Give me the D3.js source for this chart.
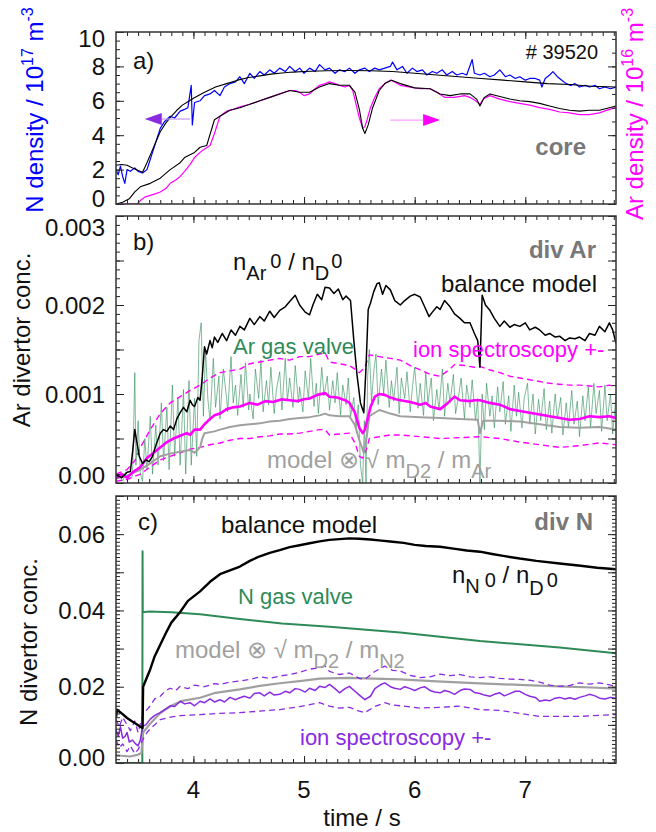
<!DOCTYPE html>
<html>
<head>
<meta charset="utf-8">
<script src="https://cdn.jsdelivr.net/npm/d3@7"></script>
<style>
body { margin: 0; background: #fff; }
text { font-family: "Liberation Sans", Arial, Helvetica, sans-serif; }
</style>
</head>
<body>
<div id="chart"></div>
<script>
// ---- data (time in s) ----

// panel a: core densities
let nDensity = [[3.30,2.0],[3.32,1.7],[3.34,2.2],[3.36,1.6],[3.38,1.2],[3.40,2.0],[3.43,1.9],[3.47,2.1],[3.50,1.9],[3.54,1.8],[3.58,2.0],[3.61,2.6],[3.65,3.4],[3.70,4.4],[3.74,4.8],[3.79,5.1],[3.83,5.0],[3.88,5.4],[3.92,5.5],[3.95,5.6],[3.98,6.9],[3.99,4.6],[4.01,5.9],[4.06,6.0],[4.10,6.3],[4.15,6.4],[4.19,6.6],[4.24,6.3],[4.28,6.8],[4.33,7.0],[4.38,7.1],[4.42,7.4],[4.46,7.0],[4.51,7.6],[4.55,7.3],[4.60,7.7],[4.64,7.5],[4.69,7.8],[4.73,7.6],[4.78,7.9],[4.83,7.7],[4.87,8.0],[4.92,7.7],[4.96,7.9],[5.00,7.6],[5.05,7.9],[5.10,7.7],[5.14,8.1],[5.19,7.8],[5.23,7.9],[5.28,7.6],[5.32,7.8],[5.37,7.7],[5.41,7.9],[5.46,7.6],[5.50,7.8],[5.55,7.9],[5.59,7.7],[5.64,7.9],[5.68,7.8],[5.73,7.9],[5.78,8.0],[5.80,8.25],[5.84,7.8],[5.89,8.0],[5.93,7.6],[5.98,7.9],[6.02,7.7],[6.07,7.8],[6.11,7.5],[6.16,7.7],[6.20,7.6],[6.25,7.8],[6.29,7.5],[6.34,7.7],[6.38,7.5],[6.43,7.6],[6.47,7.5],[6.52,8.4],[6.54,7.6],[6.59,7.5],[6.63,7.6],[6.68,7.4],[6.72,7.5],[6.77,7.8],[6.82,7.4],[6.86,7.5],[6.91,7.3],[6.95,7.4],[7.00,7.2],[7.04,7.3],[7.09,7.3],[7.13,7.2],[7.15,6.8],[7.18,7.3],[7.22,7.5],[7.25,7.7],[7.29,7.4],[7.33,7.2],[7.37,7.0],[7.41,6.9],[7.45,7.0],[7.49,6.8],[7.54,6.9],[7.58,6.8],[7.63,6.9],[7.67,6.7],[7.72,6.8],[7.77,6.7],[7.82,6.8]];
let nDensityFit = [[3.30,2.25],[3.35,2.3],[3.40,2.25],[3.45,2.1],[3.50,1.95],[3.54,1.85],[3.58,2.4],[3.62,3.0],[3.66,3.6],[3.70,4.2],[3.75,4.7],[3.80,5.1],[3.85,5.45],[3.90,5.75],[3.95,5.95],[4.00,6.15],[4.10,6.5],[4.20,6.8],[4.30,7.0],[4.40,7.2],[4.50,7.35],[4.60,7.45],[4.70,7.55],[4.80,7.62],[4.90,7.67],[5.00,7.7],[5.20,7.75],[5.40,7.76],[5.60,7.75],[5.80,7.7],[6.00,7.6],[6.20,7.5],[6.40,7.4],[6.60,7.3],[6.80,7.2],[7.00,7.1],[7.20,7.0],[7.40,6.95],[7.60,6.85],[7.82,6.8]];
let arDensity = [[3.30,0],[3.49,0],[3.52,0.2],[3.56,0.4],[3.61,0.5],[3.66,0.6],[3.70,0.7],[3.75,0.9],[3.79,1.2],[3.84,1.4],[3.88,1.6],[3.92,1.9],[3.97,2.3],[4.01,2.7],[4.06,3.0],[4.10,3.2],[4.15,3.4],[4.19,4.1],[4.22,4.7],[4.24,5.1],[4.30,5.4],[4.36,5.5],[4.42,5.65],[4.51,5.8],[4.60,6.0],[4.69,6.2],[4.78,6.4],[4.87,6.6],[4.92,6.6],[4.96,6.5],[5.00,6.3],[5.05,6.4],[5.10,6.7],[5.14,6.9],[5.19,7.0],[5.23,7.1],[5.28,7.0],[5.32,6.9],[5.37,6.8],[5.41,6.9],[5.44,6.6],[5.47,5.8],[5.50,5.0],[5.53,4.4],[5.55,4.5],[5.57,4.9],[5.60,5.6],[5.64,6.2],[5.68,6.7],[5.73,7.0],[5.78,7.2],[5.82,7.1],[5.87,6.9],[5.96,6.8],[6.05,6.7],[6.14,6.7],[6.20,6.5],[6.27,6.2],[6.36,6.2],[6.45,6.3],[6.50,6.2],[6.55,6.0],[6.59,5.8],[6.62,6.1],[6.68,6.3],[6.77,6.1],[6.86,5.95],[6.95,5.85],[7.04,5.75],[7.13,5.6],[7.22,5.5],[7.31,5.35],[7.40,5.3],[7.49,5.2],[7.58,5.2],[7.67,5.3],[7.76,5.5],[7.82,5.6]];
let arDensityFit = [[3.30,0],[3.36,0.1],[3.42,0.3],[3.47,0.7],[3.52,1.0],[3.61,1.2],[3.70,1.5],[3.79,2.0],[3.88,2.4],[3.92,2.7],[4.01,3.0],[4.06,3.3],[4.12,3.4],[4.19,4.9],[4.24,5.1],[4.33,5.45],[4.42,5.6],[4.51,5.8],[4.60,6.0],[4.69,6.2],[4.78,6.4],[4.87,6.6],[4.96,6.5],[5.05,6.5],[5.14,6.8],[5.23,7.0],[5.32,6.9],[5.41,6.9],[5.46,6.5],[5.50,5.5],[5.53,4.4],[5.55,4.1],[5.58,4.6],[5.62,5.6],[5.68,6.6],[5.73,7.0],[5.79,7.2],[5.87,7.0],[6.00,6.75],[6.14,6.7],[6.23,6.4],[6.32,6.3],[6.41,6.4],[6.50,6.4],[6.56,6.1],[6.59,5.7],[6.63,6.2],[6.68,6.4],[6.77,6.25],[6.86,6.1],[6.95,6.0],[7.04,5.95],[7.13,5.85],[7.22,5.7],[7.31,5.55],[7.40,5.45],[7.49,5.4],[7.58,5.45],[7.67,5.45],[7.76,5.6],[7.82,5.7]];

// panel b: Ar divertor concentration
let arBalance = [[3.30,0.00009],[3.35,0.00006],[3.40,0.00012],[3.43,0.00013],[3.45,0.00035],[3.47,0.0006],[3.49,0.00045],[3.51,0.0003],[3.54,0.00022],[3.57,0.00026],[3.60,0.00024],[3.63,0.0003],[3.66,0.00042],[3.70,0.00056],[3.73,0.0006],[3.76,0.00058],[3.79,0.00064],[3.82,0.0006],[3.85,0.00072],[3.88,0.00079],[3.91,0.00085],[3.94,0.0008],[3.97,0.00093],[3.99,0.00088],[4.01,0.00086],[4.04,0.00096],[4.06,0.00093],[4.08,0.0012],[4.10,0.00153],[4.12,0.00145],[4.15,0.0016],[4.17,0.00152],[4.19,0.00164],[4.22,0.00158],[4.26,0.00168],[4.30,0.0016],[4.34,0.00172],[4.38,0.00166],[4.42,0.00176],[4.46,0.00172],[4.51,0.00185],[4.55,0.00178],[4.60,0.00187],[4.64,0.00182],[4.69,0.00193],[4.73,0.00186],[4.78,0.00194],[4.83,0.00198],[4.87,0.00204],[4.92,0.00211],[4.96,0.002],[5.01,0.00192],[5.05,0.00189],[5.08,0.002],[5.12,0.00212],[5.16,0.00206],[5.19,0.0022],[5.23,0.00219],[5.27,0.00213],[5.31,0.00218],[5.35,0.00206],[5.38,0.0021],[5.42,0.00205],[5.45,0.0016],[5.48,0.0012],[5.51,0.0009],[5.54,0.00079],[5.56,0.0013],[5.58,0.00195],[5.60,0.00202],[5.63,0.00215],[5.66,0.00224],[5.68,0.00225],[5.71,0.00212],[5.74,0.00222],[5.78,0.00217],[5.82,0.00205],[5.87,0.002],[5.91,0.00205],[5.96,0.0021],[6.00,0.00212],[6.05,0.00209],[6.09,0.00198],[6.13,0.00187],[6.16,0.00192],[6.20,0.00198],[6.23,0.00195],[6.27,0.00205],[6.32,0.00198],[6.36,0.0019],[6.41,0.00185],[6.45,0.0018],[6.50,0.0018],[6.54,0.00168],[6.57,0.0016],[6.59,0.0013],[6.61,0.00211],[6.64,0.002],[6.68,0.00194],[6.72,0.00185],[6.77,0.00176],[6.81,0.00182],[6.86,0.00175],[6.90,0.00178],[6.95,0.00176],[7.00,0.0018],[7.04,0.00172],[7.09,0.00175],[7.13,0.00172],[7.18,0.00166],[7.22,0.00168],[7.27,0.00164],[7.31,0.00165],[7.36,0.0016],[7.40,0.00163],[7.45,0.00162],[7.49,0.00164],[7.54,0.0016],[7.58,0.00168],[7.63,0.00166],[7.67,0.00176],[7.72,0.0017],[7.76,0.0018],[7.79,0.00172],[7.82,0.00157]];
let arValve = [[3.30,0.00003],[3.33,0.00010],[3.36,0.00002],[3.39,0.00012],[3.42,0.00004],[3.45,0.00008],[3.47,0.00124],[3.48,0.00020],[3.50,0.00070],[3.52,0.00010],[3.54,0.00002],[3.56,0.00050],[3.58,0.00015],[3.61,0.00075],[3.63,0.00010],[3.66,0.00065],[3.68,0.00020],[3.71,0.00090],[3.73,0.00025],[3.76,0.00085],[3.78,0.00015],[3.81,0.00110],[3.83,0.00030],[3.86,0.00095],[3.88,0.00020],[3.91,0.00105],[3.93,0.00010],[3.96,0.00115],[3.98,0.00020],[4.01,0.00095],[4.03,0.00030],[4.05,0.00160],[4.07,0.00180],[4.09,0.00075],[4.11,0.00150],[4.13,0.00095],[4.15,0.00070],[4.18,0.00140],[4.20,0.00085],[4.23,0.00120],[4.24,0.00072],[4.27,0.00128],[4.30,0.00095],[4.31,0.00080],[4.34,0.00142],[4.36,0.00090],[4.38,0.00110],[4.40,0.00076],[4.43,0.00122],[4.45,0.00085],[4.47,0.00135],[4.50,0.00082],[4.51,0.00100],[4.54,0.00072],[4.56,0.00128],[4.59,0.00095],[4.61,0.00138],[4.63,0.00080],[4.66,0.00115],[4.68,0.00088],[4.70,0.00130],[4.73,0.00078],[4.75,0.00105],[4.78,0.00125],[4.80,0.00082],[4.83,0.00140],[4.85,0.00092],[4.87,0.00118],[4.90,0.00085],[4.92,0.00132],[4.95,0.00090],[4.96,0.00108],[4.99,0.00080],[5.01,0.00126],[5.04,0.00094],[5.06,0.00140],[5.09,0.00086],[5.11,0.00112],[5.13,0.00078],[5.16,0.00130],[5.18,0.00098],[5.21,0.00120],[5.23,0.00082],[5.26,0.00115],[5.28,0.00090],[5.30,0.00124],[5.33,0.00076],[5.35,0.00110],[5.38,0.00088],[5.40,0.00118],[5.42,0.00074],[5.45,0.00096],[5.47,0.00060],[5.49,0.00088],[5.51,0.00020],[5.53,0.00000],[5.545,0.00070],[5.56,0.00000],[5.575,0.00120],[5.59,0.00150],[5.61,0.00092],[5.63,0.00125],[5.65,0.00145],[5.67,0.00088],[5.70,0.00128],[5.72,0.00100],[5.74,0.00138],[5.77,0.00085],[5.79,0.00115],[5.81,0.00092],[5.84,0.00130],[5.86,0.00078],[5.88,0.00118],[5.91,0.00095],[5.93,0.00125],[5.96,0.00080],[5.98,0.00108],[6.00,0.00130],[6.03,0.00084],[6.05,0.00112],[6.08,0.00076],[6.10,0.00125],[6.12,0.00090],[6.15,0.00118],[6.17,0.00070],[6.20,0.00105],[6.22,0.00082],[6.25,0.00128],[6.27,0.00075],[6.30,0.00112],[6.32,0.00090],[6.35,0.00122],[6.37,0.00078],[6.40,0.00100],[6.42,0.00118],[6.45,0.00072],[6.47,0.00110],[6.50,0.00085],[6.52,0.00116],[6.55,0.00070],[6.57,0.00095],[6.59,0.00000],[6.61,0.00100],[6.63,0.00060],[6.65,0.00112],[6.68,0.00075],[6.70,0.00098],[6.72,0.00062],[6.75,0.00108],[6.77,0.00080],[6.80,0.00114],[6.82,0.00066],[6.85,0.00098],[6.87,0.00058],[6.90,0.00110],[6.92,0.00075],[6.94,0.00102],[6.97,0.00062],[6.99,0.00095],[7.02,0.00112],[7.04,0.00066],[7.07,0.00100],[7.09,0.00055],[7.12,0.00094],[7.14,0.00070],[7.17,0.00106],[7.19,0.00060],[7.22,0.00092],[7.24,0.00056],[7.27,0.00100],[7.29,0.00072],[7.32,0.00096],[7.34,0.00054],[7.37,0.00090],[7.39,0.00062],[7.42,0.00104],[7.44,0.00066],[7.47,0.00092],[7.49,0.00052],[7.52,0.00098],[7.54,0.00070],[7.57,0.00108],[7.59,0.00062],[7.62,0.00112],[7.64,0.00078],[7.67,0.00104],[7.69,0.00058],[7.72,0.00110],[7.74,0.00070],[7.77,0.00100],[7.79,0.00055],[7.82,0.00098]];
let arIon = [[3.30,0.00005],[3.35,0.00010],[3.40,0.00006],[3.45,0.00012],[3.52,0.00018],[3.58,0.00028],[3.64,0.00034],[3.70,0.00040],[3.76,0.00046],[3.82,0.00050],[3.88,0.00053],[3.94,0.00056],[3.97,0.00054],[4.01,0.00060],[4.06,0.00060],[4.10,0.00066],[4.15,0.00072],[4.19,0.00076],[4.24,0.00078],[4.30,0.00083],[4.36,0.00085],[4.42,0.00086],[4.51,0.00090],[4.58,0.00088],[4.65,0.00092],[4.72,0.00091],[4.80,0.00094],[4.87,0.00093],[4.94,0.00092],[5.00,0.00094],[5.05,0.00095],[5.12,0.00099],[5.19,0.00101],[5.23,0.00097],[5.30,0.00096],[5.37,0.00093],[5.41,0.00090],[5.46,0.00079],[5.50,0.00062],[5.53,0.00056],[5.55,0.00060],[5.60,0.00085],[5.64,0.00097],[5.68,0.00100],[5.73,0.00099],[5.78,0.00096],[5.83,0.00094],[5.87,0.00093],[5.96,0.00091],[6.05,0.00088],[6.10,0.00090],[6.14,0.00086],[6.23,0.00083],[6.30,0.00090],[6.36,0.00097],[6.41,0.00093],[6.50,0.00092],[6.54,0.00093],[6.59,0.00093],[6.68,0.00090],[6.77,0.00088],[6.86,0.00083],[6.95,0.00081],[7.04,0.00079],[7.13,0.00077],[7.22,0.00075],[7.31,0.00073],[7.40,0.00071],[7.49,0.00072],[7.58,0.00075],[7.67,0.00074],[7.76,0.00075],[7.82,0.00073]];
let arIonHi = [[3.30,0.00010],[3.40,0.00015],[3.47,0.00025],[3.52,0.00040],[3.61,0.00060],[3.70,0.00078],[3.79,0.00090],[3.88,0.00097],[3.97,0.00104],[4.06,0.00110],[4.15,0.00118],[4.24,0.00124],[4.33,0.00126],[4.42,0.00128],[4.51,0.00134],[4.60,0.00136],[4.69,0.00138],[4.78,0.00140],[4.87,0.00138],[4.96,0.00142],[5.05,0.00142],[5.14,0.00145],[5.19,0.00146],[5.23,0.00136],[5.32,0.00134],[5.41,0.00132],[5.46,0.00128],[5.50,0.00124],[5.55,0.00130],[5.59,0.00144],[5.68,0.00142],[5.78,0.00140],[5.87,0.00138],[5.96,0.00132],[6.05,0.00127],[6.14,0.00122],[6.23,0.00120],[6.32,0.00128],[6.36,0.00133],[6.45,0.00132],[6.54,0.00130],[6.59,0.00131],[6.68,0.00127],[6.77,0.00124],[6.86,0.00120],[6.95,0.00118],[7.04,0.00116],[7.13,0.00114],[7.22,0.00112],[7.31,0.00111],[7.40,0.00110],[7.49,0.00110],[7.58,0.00109],[7.67,0.00108],[7.76,0.00110],[7.82,0.00108]];
let arIonLo = [[3.30,0.00002],[3.40,0.00004],[3.52,0.00010],[3.61,0.00018],[3.70,0.00026],[3.79,0.00030],[3.88,0.00034],[3.97,0.00038],[4.06,0.00040],[4.15,0.00043],[4.24,0.00045],[4.33,0.00048],[4.42,0.00050],[4.51,0.00050],[4.60,0.00052],[4.69,0.00053],[4.78,0.00055],[4.87,0.00055],[4.96,0.00056],[5.05,0.00058],[5.14,0.00060],[5.19,0.00060],[5.23,0.00054],[5.32,0.00055],[5.41,0.00056],[5.46,0.00045],[5.50,0.00030],[5.53,0.00028],[5.57,0.00040],[5.59,0.00050],[5.68,0.00052],[5.78,0.00054],[5.87,0.00054],[6.05,0.00052],[6.23,0.00050],[6.41,0.00051],[6.59,0.00052],[6.77,0.00050],[6.95,0.00046],[7.13,0.00043],[7.31,0.00040],[7.49,0.00042],[7.67,0.00045],[7.82,0.00043]];
let arModel = [[3.30,0.00005],[3.40,0.00008],[3.52,0.00015],[3.61,0.00022],[3.70,0.00030],[3.79,0.00033],[3.88,0.00035],[3.97,0.00037],[4.01,0.00034],[4.06,0.00040],[4.08,0.00050],[4.10,0.00056],[4.19,0.00058],[4.24,0.00060],[4.33,0.00063],[4.42,0.00065],[4.51,0.00066],[4.60,0.00067],[4.69,0.00069],[4.78,0.00070],[4.87,0.00072],[4.96,0.00073],[5.05,0.00074],[5.14,0.00076],[5.19,0.00078],[5.23,0.00076],[5.32,0.00075],[5.41,0.00075],[5.46,0.00065],[5.50,0.00048],[5.54,0.00034],[5.57,0.00055],[5.59,0.00075],[5.68,0.00082],[5.78,0.00078],[5.87,0.00075],[6.05,0.00074],[6.23,0.00073],[6.41,0.00072],[6.57,0.00071],[6.59,0.00056],[6.62,0.00070],[6.77,0.00070],[6.95,0.00069],[7.13,0.00066],[7.31,0.00063],[7.49,0.00062],[7.67,0.00063],[7.82,0.00060]];

// panel c: N divertor concentration
let nBalance = [[3.30,0.0120],[3.31,0.0140],[3.33,0.0135],[3.36,0.0128],[3.40,0.0118],[3.44,0.0110],[3.48,0.0103],[3.52,0.0095],[3.54,0.0092],[3.545,0.0200],[3.58,0.0225],[3.61,0.0246],[3.65,0.0280],[3.70,0.0310],[3.75,0.0340],[3.80,0.0368],[3.88,0.0396],[3.95,0.0425],[4.06,0.0450],[4.15,0.0475],[4.24,0.0495],[4.33,0.0505],[4.42,0.0515],[4.51,0.0530],[4.60,0.0542],[4.69,0.0551],[4.78,0.0558],[4.87,0.0566],[4.96,0.0571],[5.05,0.0576],[5.14,0.0581],[5.23,0.0585],[5.32,0.0587],[5.41,0.0589],[5.50,0.0588],[5.60,0.0586],[5.70,0.0583],[5.80,0.0580],[5.90,0.0577],[6.00,0.0572],[6.10,0.0569],[6.23,0.0567],[6.35,0.0562],[6.47,0.0557],[6.59,0.0554],[6.70,0.0548],[6.80,0.0543],[6.95,0.0536],[7.10,0.0530],[7.31,0.0523],[7.50,0.0517],[7.65,0.0512],[7.82,0.0508]];
let nValve = [[3.30,0],[3.538,0],[3.540,0.0555],[3.542,0.0395],[3.60,0.0397],[3.80,0.0395],[4.06,0.0390],[4.40,0.0378],[4.80,0.0366],[5.23,0.0357],[5.87,0.0342],[6.59,0.0320],[7.31,0.0303],[7.82,0.0288]];
let nModel = [[3.30,0.0021],[3.35,0.0019],[3.43,0.0017],[3.50,0.0022],[3.53,0.0026],[3.545,0.0080],[3.60,0.0100],[3.70,0.0131],[3.80,0.0150],[3.90,0.0163],[4.06,0.0171],[4.20,0.0184],[4.42,0.0193],[4.60,0.0202],[4.78,0.0209],[5.00,0.0216],[5.14,0.0221],[5.40,0.0223],[5.87,0.0219],[6.20,0.0214],[6.59,0.0209],[7.00,0.0204],[7.31,0.0201],[7.60,0.0198],[7.82,0.0195]];
let nIon = [[3.30,0.0087],[3.32,0.0070],[3.34,0.0095],[3.36,0.0065],[3.38,0.0069],[3.40,0.0080],[3.42,0.0055],[3.45,0.0060],[3.47,0.0052],[3.50,0.0045],[3.52,0.0060],[3.54,0.0096],[3.57,0.0100],[3.61,0.0115],[3.65,0.0125],[3.70,0.0132],[3.74,0.0140],[3.79,0.0150],[3.83,0.0148],[3.88,0.0162],[3.92,0.0155],[3.97,0.0158],[4.01,0.0150],[4.06,0.0162],[4.10,0.0158],[4.15,0.0168],[4.19,0.0160],[4.24,0.0166],[4.28,0.0160],[4.33,0.0172],[4.38,0.0166],[4.42,0.0171],[4.46,0.0175],[4.51,0.0170],[4.55,0.0182],[4.60,0.0184],[4.64,0.0176],[4.69,0.0186],[4.73,0.0178],[4.78,0.0180],[4.83,0.0188],[4.87,0.0184],[4.92,0.0195],[4.96,0.0193],[5.01,0.0186],[5.05,0.0196],[5.10,0.0190],[5.14,0.0201],[5.19,0.0198],[5.23,0.0206],[5.28,0.0195],[5.32,0.0184],[5.37,0.0195],[5.41,0.0201],[5.46,0.0188],[5.50,0.0178],[5.55,0.0166],[5.60,0.0175],[5.64,0.0195],[5.69,0.0205],[5.73,0.0210],[5.78,0.0200],[5.82,0.0196],[5.87,0.0193],[5.91,0.0200],[5.96,0.0195],[6.00,0.0190],[6.05,0.0197],[6.09,0.0200],[6.14,0.0190],[6.18,0.0186],[6.23,0.0184],[6.27,0.0190],[6.32,0.0186],[6.36,0.0180],[6.41,0.0190],[6.45,0.0194],[6.50,0.0193],[6.54,0.0185],[6.59,0.0182],[6.63,0.0178],[6.68,0.0175],[6.72,0.0180],[6.77,0.0184],[6.81,0.0176],[6.86,0.0182],[6.91,0.0188],[6.95,0.0188],[7.00,0.0180],[7.04,0.0175],[7.09,0.0172],[7.13,0.0162],[7.18,0.0165],[7.22,0.0163],[7.27,0.0170],[7.31,0.0172],[7.36,0.0168],[7.40,0.0171],[7.45,0.0167],[7.49,0.0172],[7.54,0.0176],[7.58,0.0180],[7.63,0.0176],[7.67,0.0170],[7.72,0.0168],[7.77,0.0172],[7.82,0.0170]];
let nIonHi = [[3.30,0.0115],[3.33,0.0095],[3.36,0.0120],[3.40,0.0100],[3.43,0.0085],[3.47,0.0110],[3.50,0.0080],[3.54,0.0125],[3.58,0.0140],[3.61,0.0150],[3.65,0.0168],[3.70,0.0175],[3.75,0.0190],[3.79,0.0196],[3.84,0.0190],[3.88,0.0201],[3.95,0.0195],[4.01,0.0204],[4.10,0.0200],[4.19,0.0208],[4.24,0.0206],[4.33,0.0212],[4.42,0.0215],[4.51,0.0219],[4.60,0.0226],[4.69,0.0222],[4.78,0.0228],[4.87,0.0232],[4.96,0.0238],[5.05,0.0246],[5.14,0.0250],[5.19,0.0254],[5.23,0.0240],[5.32,0.0232],[5.41,0.0236],[5.50,0.0222],[5.55,0.0219],[5.64,0.0240],[5.73,0.0254],[5.80,0.0243],[5.87,0.0241],[5.96,0.0230],[6.05,0.0224],[6.14,0.0226],[6.23,0.0233],[6.32,0.0229],[6.41,0.0232],[6.50,0.0226],[6.59,0.0224],[6.68,0.0226],[6.77,0.0222],[6.86,0.0220],[6.95,0.0219],[7.04,0.0217],[7.13,0.0212],[7.22,0.0204],[7.31,0.0201],[7.40,0.0203],[7.49,0.0210],[7.58,0.0207],[7.67,0.0210],[7.76,0.0205],[7.82,0.0201]];
let nIonLo = [[3.30,0.0060],[3.33,0.0040],[3.36,0.0050],[3.40,0.0030],[3.43,0.0045],[3.47,0.0025],[3.50,0.0035],[3.54,0.0060],[3.58,0.0080],[3.61,0.0090],[3.65,0.0100],[3.70,0.0114],[3.79,0.0120],[3.88,0.0124],[4.06,0.0127],[4.24,0.0130],[4.42,0.0132],[4.60,0.0136],[4.78,0.0140],[4.96,0.0148],[5.14,0.0158],[5.23,0.0149],[5.32,0.0144],[5.41,0.0146],[5.50,0.0136],[5.55,0.0132],[5.64,0.0148],[5.73,0.0158],[5.80,0.0152],[5.87,0.0150],[6.05,0.0144],[6.23,0.0146],[6.41,0.0149],[6.59,0.0140],[6.77,0.0138],[6.95,0.0130],[7.13,0.0122],[7.31,0.0122],[7.49,0.0122],[7.67,0.0125],[7.82,0.0127]];

// ticks
let timeTicks = [4, 5, 6, 7];
let aTicks = [0, 2, 4, 6, 8, 10];
let bTicks = [0, 0.001, 0.002, 0.003];
let bLabels = ["0.00", "0.001", "0.002", "0.003"];
let cTicks = [0, 0.02, 0.04, 0.06];
let cLabels = ["0.00", "0.02", "0.04", "0.06"];

// ---- layout ----
let width = 656, height = 832;
let x0 = 116, x1 = 616;
let svg = d3.select("#chart").append("svg")
            .attr("width", width).attr("height", height);

let x = d3.scaleLinear().domain([3.3, 7.82]).range([x0, x1]);
let ya = d3.scaleLinear().domain([0, 10]).range([204, 32]);
let ya2 = d3.scaleLinear().domain([0, 10]).range([204, 32]);
let yb = d3.scaleLinear().domain([0, 0.003]).range([483, 216]);
let yc = d3.scaleLinear().domain([0, 0.07]).range([763, 496]);

let green = "#2e8b57", purple = "#8a2be2", grey = "#a0a0a0", darkGrey = "#787878";

function clip(id, y) {
    svg.append("clipPath").attr("id", id).append("rect")
       .attr("x", x0).attr("y", y.range()[1]).attr("width", x1 - x0)
       .attr("height", y.range()[0] - y.range()[1]);
    return svg.append("g").attr("clip-path", `url(#${id})`);
}

function drawLine(g, data, y, color, w, dash, opacity) {
    let line = d3.line().x(d => x(d[0])).y(d => y(d[1]));
    g.append("path").datum(data).attr("d", line)
     .attr("fill", "none").attr("stroke", color).attr("stroke-width", w)
     .attr("stroke-dasharray", dash || null).attr("stroke-opacity", opacity || 1)
     .attr("stroke-linejoin", "round");
}

function frame(y, yRight, leftMinor, leftMajor, rightMinor, rightMajor) {
    let top = y.range()[1], bot = y.range()[0];
    let xMinor = d3.range(3.4, 7.82, 0.1);
    let tick = (axis, tr) => svg.append("g").attr("transform", tr).call(axis)
                               .call(s => s.select(".domain").remove())
                               .call(s => s.selectAll("line").attr("stroke", "#222"));
    tick(d3.axisBottom(x).tickValues(xMinor).tickSize(-4).tickFormat(""), `translate(0,${bot})`);
    tick(d3.axisBottom(x).tickValues(timeTicks).tickSize(-7).tickFormat(""), `translate(0,${bot})`);
    tick(d3.axisTop(x).tickValues(xMinor).tickSize(-4).tickFormat(""), `translate(0,${top})`);
    tick(d3.axisTop(x).tickValues(timeTicks).tickSize(-7).tickFormat(""), `translate(0,${top})`);
    tick(d3.axisLeft(y).tickValues(leftMinor).tickSize(-4).tickFormat(""), `translate(${x0},0)`);
    tick(d3.axisLeft(y).tickValues(leftMajor).tickSize(-8).tickFormat(""), `translate(${x0},0)`);
    tick(d3.axisRight(yRight).tickValues(rightMinor).tickSize(-4).tickFormat(""), `translate(${x1},0)`);
    tick(d3.axisRight(yRight).tickValues(rightMajor).tickSize(-8).tickFormat(""), `translate(${x1},0)`);
    svg.append("rect").attr("x", x0).attr("y", top).attr("width", x1 - x0).attr("height", bot - top)
       .attr("fill", "none").attr("stroke", "#333").attr("stroke-width", 1.5);
}

function yLabels(y, values, labels, lo, hi) {
    svg.append("g").selectAll("text").data(values).join("text")
       .attr("x", x0 - 11)
       .attr("y", d => Math.max(lo, Math.min(hi, y(d))))
       .attr("dy", "0.36em").attr("text-anchor", "end")
       .attr("font-size", 24).attr("fill", "#111")
       .text((d, i) => labels[i]);
}

// rich text: parts = [text, size, dy, dx]
function rich(xp, yp, color, parts, opts = {}) {
    let t = svg.append("text").attr("fill", color)
               .attr("font-weight", opts.weight || "normal")
               .attr("text-anchor", opts.anchor || "start");
    if (opts.rotate) t.attr("transform", `translate(${xp},${yp}) rotate(-90)`);
    else t.attr("x", xp).attr("y", yp);
    for (let p of parts) {
        t.append("tspan").attr("font-size", p[1]).attr("dy", p[2] || 0)
         .attr("dx", p[3] || 0).text(p[0]);
    }
    return t;
}

// ---- panel a ----
let ga = clip("clipA", ya);
drawLine(ga, arDensity, ya2, "#ff00ff", 1.2);
drawLine(ga, arDensityFit, ya2, "#000", 1.1);
drawLine(ga, nDensity, ya, "#0000ff", 1.2);
drawLine(ga, nDensityFit, ya, "#000", 1.1);

// direction arrows (data coordinates)
let arrowN = [[3.97, 4.94], [3.56, 4.94]];
let arrowAr = [[5.78, 4.88], [6.23, 4.88]];
function arrow(a, color, lineColor) {
    let [p, q] = a;
    let tipX = x(q[0]), yy = ya(q[1]), dir = Math.sign(x(q[0]) - x(p[0]));
    let baseX = tipX - dir * 17;
    svg.append("line").attr("x1", x(p[0])).attr("x2", baseX).attr("y1", yy).attr("y2", yy)
       .attr("stroke", lineColor).attr("stroke-width", 1.2);
    svg.append("path").attr("d", `M${tipX},${yy}L${baseX},${yy - 6}L${baseX},${yy + 6}Z`)
       .attr("fill", color);
}
arrow(arrowN, purple, "#c39af0");
arrow(arrowAr, "#ff00ff", "#ff9cff");

frame(ya, ya2, d3.range(0, 10.01, 0.5), aTicks, d3.range(0, 10.01, 0.8), [0, 4, 8]);
yLabels(ya, aTicks, aTicks.map(String), 38, 198);

rich(133, 69, "#111", [["a)", 24]]);
rich(598, 59, "#111", [["# 39520", 20]], {anchor: "end"});
rich(586, 155, darkGrey, [["core", 24]], {weight: "bold", anchor: "end"});
rich(43, 110, "#0000ff", [["N density / 10", 24], ["17", 16, -10], [" m", 24, 10], ["-3", 16, -10]], {rotate: true, anchor: "middle"});
rich(643, 114, "#ff00ff", [["Ar density / 10", 24], ["16", 16, -10], [" m", 24, 10], ["-3", 16, -10]], {rotate: true, anchor: "middle"});

// ---- panel b ----
let gb = clip("clipB", yb);
drawLine(gb, arValve, yb, green, 0.8, null, 0.75);
drawLine(gb, arIonHi, yb, "#ff00ff", 1.4, "6,4");
drawLine(gb, arIonLo, yb, "#ff00ff", 1.4, "6,4");
drawLine(gb, arModel, yb, grey, 2);
drawLine(gb, arIon, yb, "#ff00ff", 2.6);
drawLine(gb, arBalance, yb, "#000", 1.5);

frame(yb, yb, d3.range(0, 0.00301, 0.0001), d3.range(0, 0.00301, 0.0005),
      d3.range(0, 0.00301, 0.0001), d3.range(0, 0.00301, 0.0005));
yLabels(yb, bTicks, bLabels, 227, 475);

rich(133, 250, "#111", [["b)", 24]]);
rich(233, 270, "#111", [["n", 24], ["Ar", 20, 10], ["0", 20, -12, 4], [" / n", 24, 2], ["D", 20, 10], ["0", 20, -12, 2]]);
rich(596, 258, darkGrey, [["div Ar", 24]], {weight: "bold", anchor: "end"});
rich(597, 292, "#111", [["balance model", 24]], {anchor: "end"});
rich(233, 354, green, [["Ar gas valve", 22]]);
rich(413, 357, "#ff00ff", [["ion spectroscopy  +-", 22]]);
rich(267, 468, grey, [["model ⊗ √ m", 24], ["D2", 20, 10], [" / m", 24, -10], ["Ar", 20, 10]]);
rich(30, 340, "#111", [["Ar divertor conc.", 24]], {rotate: true, anchor: "middle"});

// ---- panel c ----
let gc = clip("clipC", yc);
drawLine(gc, nValve, yc, green, 2);
drawLine(gc, nModel, yc, grey, 2.2);
drawLine(gc, nIonHi, yc, purple, 1.3, "6,4");
drawLine(gc, nIonLo, yc, purple, 1.3, "6,4");
drawLine(gc, nIon, yc, purple, 1.5);
drawLine(gc, nBalance, yc, "#000", 2.4);

frame(yc, yc, d3.range(0, 0.0701, 0.001), d3.range(0, 0.0701, 0.01),
      d3.range(0, 0.0701, 0.001), d3.range(0, 0.0701, 0.01));
yLabels(yc, cTicks, cLabels, 500, 757);

svg.append("g").selectAll("text").data(timeTicks).join("text")
   .attr("x", d => x(d)).attr("y", 798).attr("text-anchor", "middle")
   .attr("font-size", 24).attr("fill", "#111").text(d => d);
rich(362, 826, "#111", [["time / s", 24]], {anchor: "middle"});

rich(138, 530, "#111", [["c)", 24]]);
rich(221, 533, "#111", [["balance model", 24]]);
rich(593, 530, darkGrey, [["div N", 24]], {weight: "bold", anchor: "end"});
rich(452, 583, "#111", [["n", 24], ["N", 20, 10], ["0", 20, -6, 5], [" / n", 24, -4], ["D", 20, 12], ["0", 20, -8, 3]]);
rich(238, 604, green, [["N gas valve", 22]]);
rich(175, 658, grey, [["model ⊗ √ m", 24], ["D2", 20, 10], [" / m", 24, -10], ["N2", 20, 10]]);
rich(300, 745, purple, [["ion spectroscopy  +-", 22]]);
rich(37, 642, "#111", [["N divertor conc.", 24]], {rotate: true, anchor: "middle"});
</script>
</body>
</html>
